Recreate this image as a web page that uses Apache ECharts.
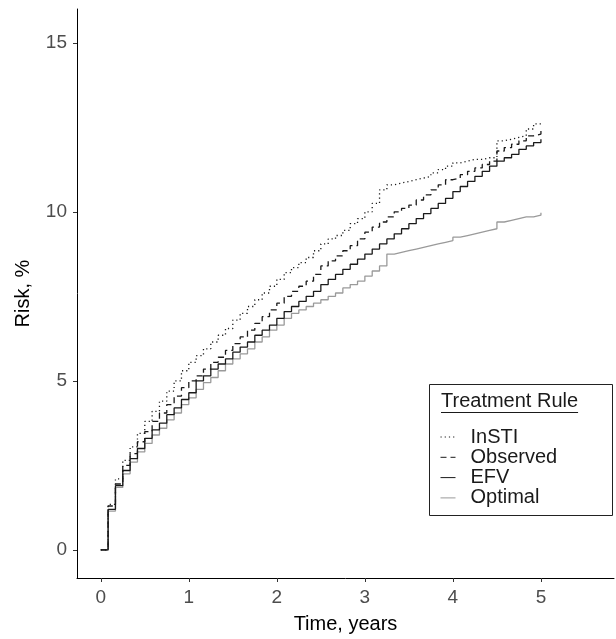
<!DOCTYPE html>
<html>
<head>
<meta charset="utf-8">
<script src="https://cdn.jsdelivr.net/npm/echarts@6/dist/echarts.min.js"></script>
<style>
  html, body { margin: 0; padding: 0; background: #fff; }
  #chart { width: 616px; height: 639px; }
</style>
</head>
<body>
<div id="chart"></div>
<script>
// months since start, one step per month (0 .. 60)
var months = [0, 1, 2, 3, 4, 5, 6, 7, 8, 9, 10, 11, 12, 13, 14, 15, 16, 17, 18, 19, 20,
  21, 22, 23, 24, 25, 26, 27, 28, 29, 30, 31, 32, 33, 34, 35, 36, 37, 38, 39, 40,
  41, 42, 43, 44, 45, 46, 47, 48, 49, 50, 51, 52, 53, 54, 55, 56, 57, 58, 59, 60];

// cumulative risk (%), value from each month on
var insti = [0, 1.35, 2.1, 2.65, 3.05, 3.45, 3.8, 4.1, 4.4, 4.7, 5.0, 5.3, 5.55,
  5.75, 5.95, 6.15, 6.35, 6.55, 6.8, 7.0, 7.2, 7.4, 7.6, 7.8, 8.0, 8.2,
  8.35, 8.5, 8.65, 8.85, 9.05, 9.2, 9.3, 9.45, 9.65, 9.8, 10.0, 10.25,
  10.65, 10.8, 10.85, 10.9, 10.95, 11.0, 11.05, 11.15, 11.25, 11.35, 11.45, 11.5,
  11.55, 11.55, 11.6, 11.6, 12.1, 12.15, 12.2, 12.25, 12.45, 12.6, 12.65];
var observed = [0, 1.3, 1.95, 2.5, 2.85, 3.2, 3.5, 3.8, 4.05, 4.3, 4.55, 4.8, 5.0,
  5.15, 5.35, 5.55, 5.7, 5.9, 6.1, 6.3, 6.5, 6.7, 6.9, 7.1, 7.3, 7.5,
  7.65, 7.8, 7.95, 8.15, 8.4, 8.55, 8.7, 8.85, 9.0, 9.2, 9.4, 9.55,
  9.7, 9.85, 10.0, 10.1, 10.2, 10.35, 10.5, 10.65, 10.8, 10.95, 11.0, 11.1,
  11.2, 11.3, 11.4, 11.5, 11.8, 11.9, 12.0, 12.1, 12.25, 12.3, 12.4];
var efv = [0, 1.2, 1.9, 2.35, 2.7, 3.0, 3.3, 3.55, 3.75, 4.0, 4.2, 4.45, 4.65,
  5.0, 5.15, 5.35, 5.5, 5.65, 5.85, 6.0, 6.15, 6.35, 6.5, 6.65, 6.85, 7.05,
  7.2, 7.35, 7.5, 7.65, 7.85, 8.0, 8.15, 8.3, 8.45, 8.6, 8.75, 8.9,
  9.05, 9.2, 9.35, 9.5, 9.65, 9.8, 9.95, 10.1, 10.25, 10.4, 10.6, 10.75,
  10.9, 11.05, 11.2, 11.35, 11.5, 11.6, 11.7, 11.85, 11.95, 12.05, 12.15];
var optimal = [0, 1.15, 1.85, 2.25, 2.6, 2.9, 3.15, 3.4, 3.6, 3.85, 4.05, 4.3, 4.5,
  4.75, 4.95, 5.1, 5.3, 5.5, 5.65, 5.8, 5.95, 6.15, 6.3, 6.5, 6.65, 6.85,
  7.0, 7.1, 7.2, 7.3, 7.4, 7.5, 7.6, 7.75, 7.85, 7.95, 8.1, 8.25,
  8.4, 8.75, 8.8, 8.85, 8.9, 8.95, 9.0, 9.05, 9.1, 9.15, 9.25, 9.3,
  9.35, 9.4, 9.45, 9.5, 9.7, 9.75, 9.8, 9.85, 9.85, 9.9, 9.97];

var xTicks = [0, 1, 2, 3, 4, 5];
var yTicks = [0, 5, 10, 15];
var legendNames = ['InSTI', 'Observed', 'EFV', 'Optimal'];

var FONT = '"Liberation Sans", Arial, Helvetica, sans-serif';

function toPairs(vals) {
  return months.map(function (m, i) { return [m / 12, vals[i]]; });
}

function stepSeries(name, vals, color, type, width) {
  return {
    name: name,
    type: 'line',
    step: 'end',
    symbol: 'none',
    data: toPairs(vals),
    lineStyle: { color: color, type: type, width: width },
    itemStyle: { color: color },
    emphasis: { disabled: true }
  };
}

// width of the legend title for its underline
var ctx = document.createElement('canvas').getContext('2d');
ctx.font = '20px ' + FONT;
var titleW = ctx.measureText('Treatment Rule').width;

var myChart = echarts.init(document.getElementById('chart'));

myChart.setOption({
  animation: false,
  backgroundColor: '#fff',
  textStyle: { fontFamily: FONT },
  grid: { left: 77, right: 2, top: 9, bottom: 61 },
  xAxis: {
    type: 'value',
    min: -0.27,
    max: 5.83,
    name: 'Time, years',
    nameLocation: 'middle',
    nameGap: 36,
    nameTextStyle: { fontSize: 20, color: '#000', fontFamily: FONT },
    axisLine: { onZero: false, lineStyle: { color: '#000', width: 1 } },
    axisTick: { customValues: xTicks, length: 4, lineStyle: { color: '#333' } },
    axisLabel: { customValues: xTicks, fontSize: 19, color: '#4d4d4d', margin: 10, fontFamily: FONT },
    splitLine: { show: false }
  },
  yAxis: {
    type: 'value',
    min: -0.83,
    max: 16,
    name: 'Risk, %',
    nameLocation: 'middle',
    nameGap: 44,
    nameRotate: 90,
    nameTextStyle: { fontSize: 20, color: '#000', fontFamily: FONT },
    axisLine: { show: true, onZero: false, lineStyle: { color: '#000', width: 1 } },
    axisTick: { show: true, customValues: yTicks, length: 4, lineStyle: { color: '#333' } },
    axisLabel: { customValues: yTicks, fontSize: 19, color: '#4d4d4d', margin: 10, fontFamily: FONT },
    splitLine: { show: false }
  },
  legend: {
    data: legendNames,
    orient: 'vertical',
    left: 440,
    top: 427,
    padding: 0,
    itemWidth: 15,
    itemHeight: 14,
    itemGap: 0.3,
    selectedMode: false,
    itemStyle: { opacity: 0 },
    lineStyle: { width: 1 },
    textStyle: { fontSize: 20, lineHeight: 20, color: '#1a1a1a', padding: [0, 0, 0, 10], fontFamily: FONT }
  },
  graphic: [
    {
      type: 'rect',
      shape: { x: 429.5, y: 384.5, width: 183, height: 131 },
      style: { fill: '#fff', stroke: '#222', lineWidth: 1 },
      z: 0
    },
    {
      type: 'text',
      x: 441,
      y: 391,
      style: { text: 'Treatment Rule', font: '20px ' + FONT, fill: '#1a1a1a', textVerticalAlign: 'top' },
      z: 10
    },
    {
      type: 'line',
      shape: { x1: 441, y1: 412.5, x2: 441 + titleW, y2: 412.5 },
      style: { stroke: '#1a1a1a', lineWidth: 1 },
      z: 10
    }
  ],
  series: [
    stepSeries('Optimal', optimal, '#9a9a9a', 'solid', 1.3),
    stepSeries('EFV', efv, '#1a1a1a', 'solid', 1.3),
    stepSeries('Observed', observed, '#1a1a1a', [6, 4], 1.3),
    stepSeries('InSTI', insti, '#1a1a1a', [1.2, 3], 1.3)
  ]
});
</script>
</body>
</html>
